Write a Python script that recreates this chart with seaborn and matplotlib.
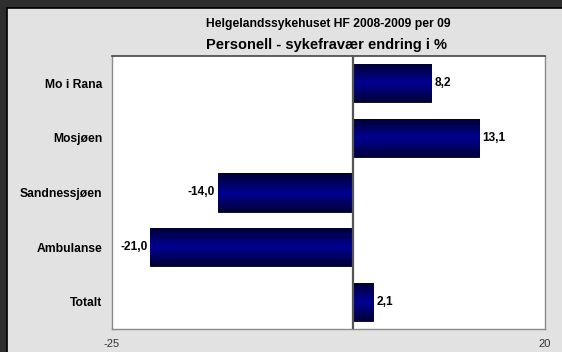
import matplotlib
matplotlib.use('Agg')
import matplotlib.pyplot as plt
import seaborn as sns
import numpy as np
import pandas as pd
from matplotlib.colors import LinearSegmentedColormap
from matplotlib.patches import Rectangle

categories = ['Mo i Rana', 'Mosjøen', 'Sandnessjøen', 'Ambulanse', 'Totalt']
values = [8.2, 13.1, -14.0, -21.0, 2.1]
value_labels = ['8,2', '13,1', '-14,0', '-21,0', '2,1']
x_ticks = [-25, 20]
title_line1 = 'Helgelandssykehuset HF 2008-2009 per 09'
title_line2 = 'Personell - sykefravær endring i %'

sns.set_theme(style='white')
plt.rcParams['font.family'] = ['Liberation Sans', 'DejaVu Sans']

W, H = 562, 352
fig = plt.figure(figsize=(W / 100, H / 100), dpi=100, facecolor='#2e2e2e')
panel = Rectangle((7 / W, -0.05), 1.1, (H - 8) / H + 0.05, transform=fig.transFigure,
                  facecolor='#e2e2e2', edgecolor='black', lw=1.2, zorder=-10)
fig.patches.append(panel)

ax = fig.add_axes([112 / W, 23 / H, 433 / W, 273 / H])
ax.set_zorder(1)
ax.set_facecolor('white')
df = pd.DataFrame({'cat': categories, 'val': values})
sns.barplot(data=df, x='val', y='cat', orient='h', width=0.7, color='#000080',
            edgecolor='black', linewidth=0.6, ax=ax, zorder=2)

cmap = LinearSegmentedColormap.from_list('bargrad', ['#000035', '#000092', '#000035'])
grad = np.linspace(0, 1, 256).reshape(-1, 1)
xlim = (-25, 20)
ylim = ax.get_ylim()
for p in list(ax.patches):
    x0, y0 = p.get_x(), p.get_y()
    w, h = p.get_width(), p.get_height()
    im = ax.imshow(grad, extent=[x0, x0 + w, y0 + h, y0], aspect='auto', cmap=cmap,
                   zorder=2.5, interpolation='bilinear')
    im.set_clip_path(p)
ax.set_xlim(*xlim)
ax.set_ylim(*ylim)

ax.axvline(0, color='#555555', lw=1.6, zorder=3)

for i, (v, lab) in enumerate(zip(values, value_labels)):
    if v >= 0:
        ax.annotate(lab, (v, i), xytext=(2.5, 0), textcoords='offset points',
                    ha='left', va='center', fontsize=8.6, fontweight='bold', color='black')
    else:
        ax.annotate(lab, (v, i), xytext=(-2.0, 0), textcoords='offset points',
                    ha='right', va='center', fontsize=8.6, fontweight='bold', color='black')

ax.set_xticks(x_ticks)
ax.set_xticklabels([str(t) for t in x_ticks])
ax.tick_params(axis='x', length=0, pad=7, labelsize=8, labelcolor='#333333')
ax.tick_params(axis='y', length=0, pad=7, labelsize=8.7, labelcolor='black')
for t in ax.get_yticklabels():
    t.set_fontweight('bold')
ax.set_xlabel('')
ax.set_ylabel('')

for s in ['left', 'right', 'bottom']:
    ax.spines[s].set_color('#8a8a8a')
    ax.spines[s].set_linewidth(1.0)
ax.spines['top'].set_color('#444444')
ax.spines['top'].set_linewidth(1.2)

fig.text(328.5 / W, 1 - 24 / H, title_line1, ha='center', va='center', fontsize=8.75,
         fontweight='bold', color='black')
fig.text(327 / W, 1 - 45 / H, title_line2, ha='center', va='center', fontsize=10.5,
         fontweight='bold', color='black')

fig.savefig('out.png', dpi=100, facecolor=fig.get_facecolor())
